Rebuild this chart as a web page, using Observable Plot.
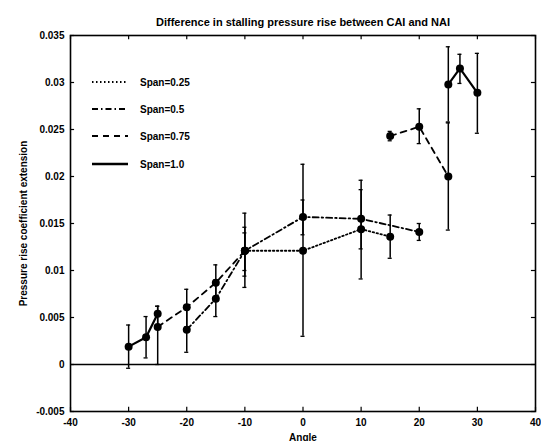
<!DOCTYPE html>
<html><head><meta charset="utf-8">
<script src="https://cdn.jsdelivr.net/npm/d3@7"></script>
<script src="https://cdn.jsdelivr.net/npm/@observablehq/plot@0.6"></script>
<style>
body{margin:0;background:#fff;font-family:"Liberation Sans",Arial,sans-serif;}
#wrap{position:relative;width:541px;height:441px;}
#legend{position:absolute;left:0;top:0;}
</style></head><body><div id="wrap"></div>
<script>
const title = "Difference in stalling pressure rise between CAI and NAI";
const xLabel = "Angle";
const yLabel = "Pressure rise coefficient extension";
const xTicks = [-40, -30, -20, -10, 0, 10, 20, 30, 40];
const yTicks = [-0.005, 0, 0.005, 0.01, 0.015, 0.02, 0.025, 0.03, 0.035];
const spanNames = ["Span=0.25", "Span=0.5", "Span=0.75", "Span=1.0"];
const spanDash = ["1.5,2.5", "6,3,1.5,3", "6,5", null];
const spanSplit = [false, false, true, true];

// Span=0.25 (dotted)
const span025Angle = [-10, 0, 10, 15];
const span025Value = [0.0121, 0.0121, 0.0144, 0.0136];
const span025Low   = [0.0094, 0.0030, 0.0091, 0.0113];
const span025High  = [0.0146, 0.0213, 0.0196, 0.0159];
// Span=0.5 (dash-dot)
const span05Angle = [-20, -15, -10, 0, 10, 20];
const span05Value = [0.0037, 0.0070, 0.0121, 0.0157, 0.0155, 0.0141];
const span05Low   = [0.0013, 0.0051, 0.0082, 0.0138, 0.0123, 0.0132];
const span05High  = [0.0062, 0.0090, 0.0161, 0.0175, 0.0186, 0.0150];
// Span=0.75 (dashed)
const span075Angle = [-25, -20, -15, -10, 15, 20, 25];
const span075Value = [0.0040, 0.0061, 0.0087, 0.0121, 0.0243, 0.0253, 0.0200];
const span075Low   = [0.0000, 0.0040, 0.0068, 0.0100, 0.0238, 0.0235, 0.0143];
const span075High  = [0.0062, 0.0080, 0.0106, 0.0140, 0.0248, 0.0272, 0.0257];
// Span=1.0 (solid)
const span10Angle = [-30, -27, -25, 25, 27, 30];
const span10Value = [0.0019, 0.0029, 0.0054, 0.0298, 0.0315, 0.0289];
const span10Low   = [-0.0004, 0.0007, 0.0040, 0.0258, 0.0299, 0.0246];
const span10High  = [0.0042, 0.0051, 0.0062, 0.0338, 0.0330, 0.0331];

const series = [
  [span025Angle, span025Value, span025Low, span025High],
  [span05Angle, span05Value, span05Low, span05High],
  [span075Angle, span075Value, span075Low, span075High],
  [span10Angle, span10Value, span10Low, span10High]
];
const rows = [];
series.forEach(([a, v, lo, hi], i) => a.forEach((x, j) => rows.push({
  span: spanNames[i], angle: x, value: v[j], low: lo[j], high: hi[j],
  part: spanSplit[i] && x > 0 ? "pos" : "neg"
})));

const fmt = d => d === 0 ? "0" : String(+d.toFixed(4)).replace("\u2212", "-");
const capW = 0.35;
const tickLenX = 0.7;      // inward tick length in angle units
const tickLenY = 0.00045;  // inward tick length in value units
const lineMarks = spanNames.map((s, i) => Plot.line(rows.filter(r => r.span === s), {
  x: "angle", y: "value", z: "part", stroke: "black", strokeWidth: i === 3 ? 2.2 : 1.8,
  strokeDasharray: spanDash[i] || undefined
}));

const chart = Plot.plot({
  width: 541, height: 441,
  marginLeft: 70, marginRight: 6, marginTop: 35, marginBottom: 30,
  style: {fontFamily: "Liberation Sans, Arial, sans-serif", fontSize: "10px", fontWeight: "bold", color: "black", background: "white"},
  x: {domain: [-40, 40]},
  y: {domain: [-0.005, 0.035]},
  marks: [
    Plot.ruleY([0], {stroke: "black", strokeWidth: 1.6}),
    Plot.ruleX(rows, {x: "angle", y1: "low", y2: "high", stroke: "black", strokeWidth: 1.5}),
    Plot.ruleY(rows, {y: "low", x1: d => d.angle - capW, x2: d => d.angle + capW, stroke: "black", strokeWidth: 1.3}),
    Plot.ruleY(rows, {y: "high", x1: d => d.angle - capW, x2: d => d.angle + capW, stroke: "black", strokeWidth: 1.3}),
    ...lineMarks,
    Plot.dot(rows, {x: "angle", y: "value", r: 4, fill: "black", stroke: "none"}),
    // inward ticks on all four sides
    Plot.ruleX(xTicks, {x: d => d, y1: yTicks[0], y2: yTicks[0] + tickLenY, stroke: "black", strokeWidth: 1.2}),
    Plot.ruleX(xTicks, {x: d => d, y1: yTicks[yTicks.length - 1], y2: yTicks[yTicks.length - 1] - tickLenY, stroke: "black", strokeWidth: 1.2}),
    Plot.ruleY(yTicks, {y: d => d, x1: xTicks[0], x2: xTicks[0] + tickLenX, stroke: "black", strokeWidth: 1.2}),
    Plot.ruleY(yTicks, {y: d => d, x1: xTicks[xTicks.length - 1], x2: xTicks[xTicks.length - 1] - tickLenX, stroke: "black", strokeWidth: 1.2}),
    Plot.frame({stroke: "black", strokeWidth: 1.6}),
    Plot.axisX(xTicks, {anchor: "bottom", tickSize: 0, tickPadding: 7, tickFormat: fmt, label: xLabel, labelAnchor: "center", labelOffset: 29, labelArrow: "none", fontSize: 10}),
    Plot.axisY(yTicks, {anchor: "left", tickSize: 0, tickPadding: 6, tickFormat: fmt, label: yLabel, labelAnchor: "center", labelOffset: 51, labelArrow: "none", fontSize: 10}),
    Plot.text([title], {frameAnchor: "top", dy: -17, fontSize: 11, fontWeight: "bold", fill: "black"})
  ]
});
const wrap = document.getElementById("wrap");
wrap.appendChild(chart);

// legend overlay
const leg = d3.select(wrap).append("svg").attr("id", "legend").attr("width", 541).attr("height", 441);
const rowsY = [82, 109, 136, 164];
spanNames.forEach((s, i) => {
  const g = leg.append("g");
  g.append("line").attr("x1", 92).attr("x2", 128).attr("y1", rowsY[i]).attr("y2", rowsY[i])
    .attr("stroke", "black").attr("stroke-width", i === 3 ? 2.4 : 1.8)
    .attr("stroke-dasharray", spanDash[i]);
  g.append("text").attr("x", 140).attr("y", rowsY[i]).attr("dy", "0.35em")
    .attr("font-family", "Liberation Sans, Arial, sans-serif").attr("font-size", 10).attr("font-weight", "bold")
    .text(s);
});
</script></body></html>
